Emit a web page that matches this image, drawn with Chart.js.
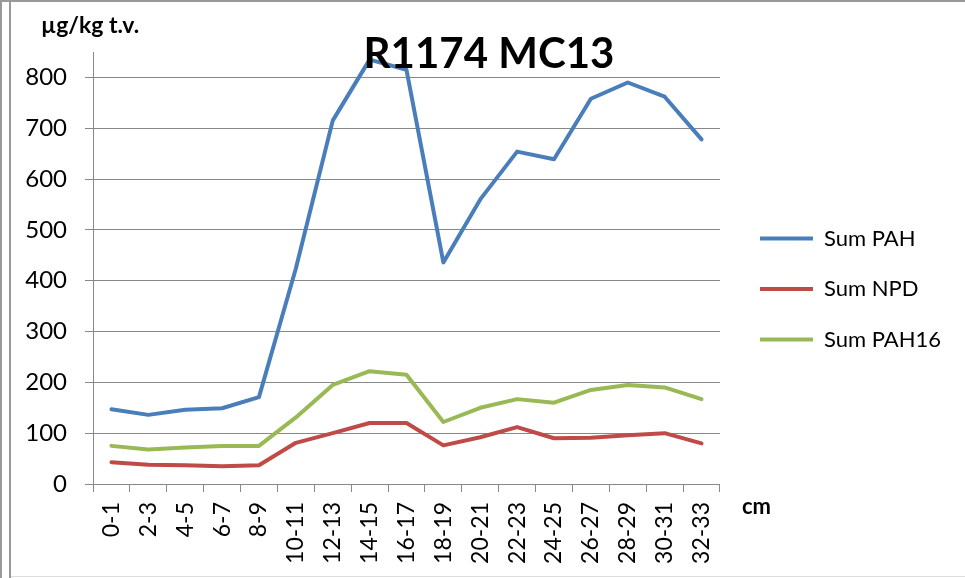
<!DOCTYPE html>
<html>
<head>
<meta charset="utf-8">
<script src="https://cdn.jsdelivr.net/npm/chart.js@4"></script>
<style>
  body { margin: 0; background: #fff; }
  #wrap { position: relative; width: 965px; height: 578px; }
  canvas { position: absolute; left: 0; top: 0; }
  .ln { position: absolute; background: #999; }
</style>
</head>
<body>
<div id="wrap">
  <canvas id="lineChart" width="965" height="578"></canvas>
  <div class="ln" style="left:0;top:0;width:965px;height:2px"></div>
  <div class="ln" style="left:0;top:0;width:2px;height:578px"></div>
  <div class="ln" style="left:9px;top:2px;width:2px;height:576px"></div>
  <div class="ln" style="left:11px;top:576px;width:954px;height:1px;background:#ddd"></div>
</div>
<script>
const dybder = ['0-1', '2-3', '4-5', '6-7', '8-9', '10-11', '12-13', '14-15', '16-17',
  '18-19', '20-21', '22-23', '24-25', '26-27', '28-29', '30-31', '32-33'];
const sumPAH = [147, 136, 146, 149, 171, 424, 715, 835, 815, 436, 560, 654, 639, 758, 790, 762, 678];
const sumNPD = [43, 38, 37, 35, 37, 81, 100, 120, 120, 76, 92, 112, 90, 91, 96, 100, 80];
const sumPAH16 = [75, 68, 72, 75, 75, 131, 195, 222, 215, 122, 150, 167, 160, 185, 195, 190, 167];
const yTicks = [0, 100, 200, 300, 400, 500, 600, 700, 800];

const tittel = 'R1174 MC13';
const enhet = 'µg/kg t.v.';
const xEnhet = 'cm';

// title and unit labels sit where Excel put them, so draw them by hand
const tekster = {
  id: 'tekster',
  afterDraw(chart) {
    const ctx = chart.ctx;
    ctx.save();
    ctx.fillStyle = '#000';
    ctx.textBaseline = 'alphabetic';
    ctx.font = 'bold 42px Lato';
    ctx.textAlign = 'center';
    ctx.fillText(tittel, 489, 68);
    ctx.textAlign = 'left';
    ctx.font = 'bold 23px Lato';
    ctx.fillText(enhet, 41, 33);
    ctx.font = 'bold 22px Lato';
    ctx.fillText(xEnhet, 742, 514);
    ctx.restore();
  }
};

function lag(label, data, farge) {
  return {
    label: label,
    data: data,
    borderColor: farge,
    backgroundColor: farge,
    borderWidth: 4,
    pointRadius: 0,
    tension: 0,
    borderCapStyle: 'round',
    borderJoinStyle: 'round'
  };
}

const ctx = document.getElementById('lineChart');

new Chart(ctx, {
  type: 'line',
  data: {
    labels: dybder,
    datasets: [
      lag('Sum PAH', sumPAH, '#4A7EBB'),
      lag('Sum NPD', sumNPD, '#BE4B48'),
      lag('Sum PAH16', sumPAH16, '#98B954')
    ]
  },
  plugins: [tekster],
  options: {
    responsive: false,
    animation: false,
    layout: { padding: { top: 0, bottom: 0, left: 0, right: 14 } },
    plugins: {
      // empty title only keeps 52px free above the plot
      title: {
        display: true,
        text: '',
        fullSize: false,
        font: { size: 10, lineHeight: 1 },
        padding: { top: 42, bottom: 0 }
      },
      tooltip: { enabled: false },
      legend: {
        position: 'right',
        align: 'center',
        maxWidth: 260,
        labels: {
          usePointStyle: true,
          pointStyle: 'line',
          pointStyleWidth: 53,
          padding: 28.5,
          color: '#000',
          font: { family: 'Lato', size: 22 }
        }
      }
    },
    scales: {
      x: {
        type: 'category',
        offset: true,
        grid: { display: true, drawOnChartArea: false, offset: true, tickLength: 8, color: '#888' },
        border: { color: '#888' },
        ticks: {
          minRotation: 90,
          maxRotation: 90,
          autoSkip: false,
          padding: 10,
          color: '#000',
          font: { family: 'Lato', size: 23 }
        },
        afterFit(s) { s.height = 94; }
      },
      y: {
        min: 0,
        max: 850,
        grid: { color: '#888', tickLength: 8 },
        border: { color: '#888' },
        ticks: {
          stepSize: 100,
          padding: 18,
          color: '#000',
          font: { family: 'Lato', size: 24 }
        },
        afterBuildTicks(s) { s.ticks = yTicks.map(v => ({ value: v })); },
        afterFit(s) { s.width = 93; }
      },
      gap: {
        type: 'linear',
        position: 'right',
        display: true,
        grid: { display: false },
        border: { display: false },
        ticks: { display: false },
        afterFit(s) { s.width = 11.5; }
      }
    }
  }
});
</script>
</body>
</html>
